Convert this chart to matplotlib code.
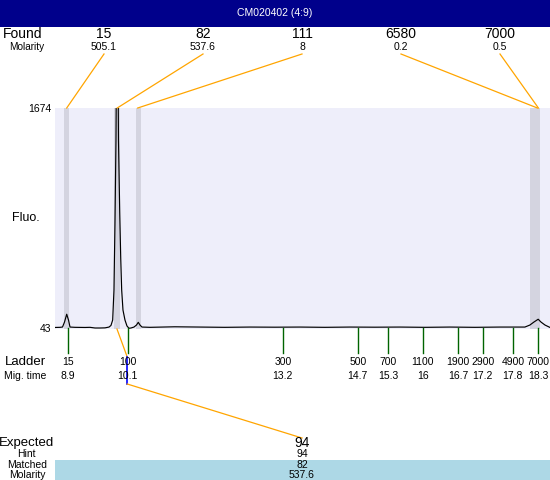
import matplotlib
matplotlib.use("Agg")
import matplotlib.pyplot as plt
import matplotlib.transforms as mtransforms
from matplotlib.lines import Line2D
from matplotlib.patches import Rectangle

plt.rcParams['font.family'] = ['Liberation Sans', 'DejaVu Sans']

# ---------------- data ----------------
title = "CM020402 (4:9)"

trace_time = [8.646, 8.746, 8.796, 8.836, 8.880, 8.916, 8.946, 9.046, 9.246, 9.346,
              9.446, 9.546, 9.646, 9.726, 9.765, 9.799, 9.825, 9.845, 9.865, 9.885,
              9.895, 9.915, 9.940, 9.960, 9.979, 10.005, 10.045, 10.085, 10.125, 10.165,
              10.225, 10.275, 10.311, 10.345, 10.385, 10.545, 11.04, 11.544, 12.04, 12.543,
              13.04, 13.543, 14.04, 14.542, 15.04, 15.541, 16.04, 16.541, 17.04, 17.540,
              18.040, 18.140, 18.220, 18.306, 18.362, 18.442, 18.542]
trace_fluo = [47, 48, 50, 87, 145, 102, 50, 48, 47, 48,
              43, 43, 44, 50, 62, 102, 325, 822, 1437, 2600,
              2600, 1437, 900, 560, 325, 176, 102, 58, 41, 43,
              50, 65, 85, 65, 50, 48, 52, 50, 48, 50,
              49, 50, 48, 50, 49, 50, 48, 50, 48, 50,
              50, 65, 87, 108, 87, 65, 47]

found_sizes = ["15", "82", "111", "6580", "7000"]
found_molarity = ["505.1", "537.6", "8", "0.2", "0.5"]
found_time = [8.88, 9.89, 10.30, 18.29, 18.31]
band_start = [8.826, 9.825, 10.265, 18.14, 18.20]
band_end = [8.926, 9.945, 10.365, 18.30, 18.34]

ladder_sizes = ["15", "100", "300", "500", "700", "1100", "1900", "2900", "4900", "7000"]
ladder_time = [8.9, 10.1, 13.2, 14.7, 15.3, 16.0, 16.7, 17.2, 17.8, 18.3]
ladder_time_labels = ["8.9", "10.1", "13.2", "14.7", "15.3", "16", "16.7", "17.2", "17.8", "18.3"]

y_ticks = [43, 1674]

expected = "94"
hint = "94"
matched = "82"
matched_molarity = "537.6"
expected_time = 10.09
matched_time = 9.885

# ---------------- figure ----------------
W, H = 550, 480
fig = plt.figure(figsize=(W / 100, H / 100), dpi=100)
fig.patch.set_facecolor('white')
# pixel transform, origin top-left
pix = mtransforms.Affine2D().scale(1 / W, -1 / H).translate(0, 1) + fig.transFigure

ORANGE = '#FFA500'

# title bar
fig.patches.append(Rectangle((0, 0), W, 27, transform=pix, facecolor='#00008B',
                             edgecolor='none', zorder=0))
fig.text(275, 13.5, title, transform=pix, color='white', fontsize=7.5,
         ha='center', va='center')

# main axes
ax = fig.add_axes([55 / W, (H - 329) / H, 495 / W, 221 / H])
ax.set_facecolor('#EEEEFA')
ax.set_xlim(8.646, 18.542)
ax.set_ylim(35.6, 1674)
for s in ax.spines.values():
    s.set_visible(False)
ax.set_xticks([])
ax.set_yticks(y_ticks)
ax.set_yticklabels([str(v) for v in y_ticks])
ax.tick_params(axis='y', length=0, pad=3, labelsize=7.5)

for s, e in zip(band_start, band_end):
    ax.axvspan(s, e, color='#D4D4E0', lw=0, zorder=1)
ax.plot(trace_time, trace_fluo, color='black', lw=0.85, zorder=3)

fig.text(26, 218, "Fluo.", transform=pix, fontsize=9, ha='center', va='center')


def xpix(t):
    return ax.transData.transform((t, 0))[0]


# Found row
fig.text(3, 34, "Found", transform=pix, fontsize=10, ha='left', va='center')
fig.text(27, 47, "Molarity", transform=pix, fontsize=7.2, ha='center', va='center')
for i, (sz, mol, t) in enumerate(zip(found_sizes, found_molarity, found_time)):
    lx = 104 + 99 * i
    fig.text(lx, 34, sz, transform=pix, fontsize=10, ha='center', va='center')
    fig.text(lx, 47, mol, transform=pix, fontsize=7.5, ha='center', va='center')
    fig.lines.append(Line2D([lx, xpix(t)], [54, 108], transform=pix, color=ORANGE, lw=0.9))

# Ladder
fig.text(25, 362, "Ladder", transform=pix, fontsize=9.5, ha='center', va='center')
fig.text(25, 376, "Mig. time", transform=pix, fontsize=7.5, ha='center', va='center')
for sz, t, tl in zip(ladder_sizes, ladder_time, ladder_time_labels):
    x = xpix(t)
    fig.lines.append(Line2D([x, x], [328, 353], transform=pix, color='#006400', lw=1.0))
    fig.text(x, 362, sz, transform=pix, fontsize=7.5, ha='center', va='center')
    fig.text(x, 376, tl, transform=pix, fontsize=7.5, ha='center', va='center')

# matched -> expected connector
xm = xpix(matched_time)
xe = xpix(expected_time)
fig.lines.append(Line2D([xm, xe], [329, 357], transform=pix, color=ORANGE, lw=0.9))
fig.lines.append(Line2D([xe, xe], [357, 384], transform=pix, color='#0000FF', lw=1.2))
fig.lines.append(Line2D([xe, 302], [384, 438], transform=pix, color=ORANGE, lw=0.9))

# bottom table
fig.patches.append(Rectangle((55, 460), 495, 20, transform=pix, facecolor='#ADD8E6',
                             edgecolor='none', zorder=0))
fig.text(27, 443, "Expected", transform=pix, fontsize=9.5, ha='center', va='center')
fig.text(302, 443, expected, transform=pix, fontsize=10, ha='center', va='center')
fig.text(26, 454, "Hint", transform=pix, fontsize=7.5, ha='center', va='center')
fig.text(302, 454, hint, transform=pix, fontsize=7.5, ha='center', va='center')
fig.text(27, 465, "Matched", transform=pix, fontsize=7.5, ha='center', va='center')
fig.text(302, 465, matched, transform=pix, fontsize=7.5, ha='center', va='center')
fig.text(27, 474.5, "Molarity", transform=pix, fontsize=7.5, ha='center', va='center')
fig.text(302, 474.5, matched_molarity, transform=pix, fontsize=7.5, ha='center', va='center')

fig.savefig("out.png", dpi=100)
